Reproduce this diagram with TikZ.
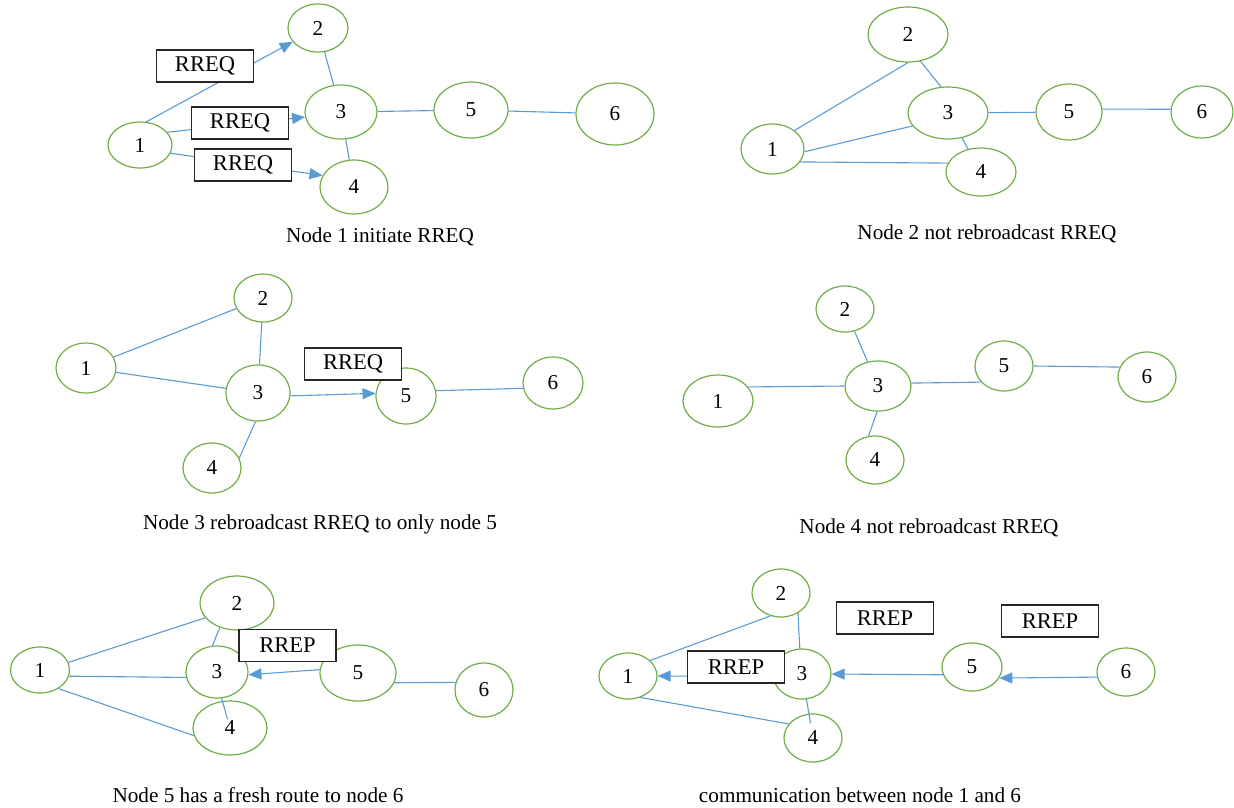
\documentclass[tikz,border=0pt]{standalone}
\usepackage{fontspec}
\setmainfont{Liberation Serif}
\usepackage{tikz}
\usetikzlibrary{arrows.meta,shapes.geometric}
\definecolor{peergreen}{RGB}{112,173,71}
\definecolor{linkblue}{RGB}{91,155,213}
\tikzset{>={Triangle[length=13pt,width=11pt]}}
\tikzset{
    peer/.style 2 args={ellipse,draw=peergreen,line width=1.2pt,inner sep=0pt,minimum width=#1,minimum height=#2},
    link/.style={color=linkblue,line width=1.1pt},
    msg/.style={draw=black!85,fill=white,line width=1.2pt,minimum width=97pt,minimum height=32pt,inner sep=0pt,font=\fontsize{22.5}{26}\selectfont},
}
\begin{document}
\begin{tikzpicture}[x=1pt,y=-1pt,font=\fontsize{21.2}{25}\selectfont]
    \useasboundingbox (0,0) rectangle (1234,807);
    \node[peer={64pt}{46pt}] at (140,145) (a1) {1};
    \node[peer={60pt}{48pt}] at (318,28) (a2) {2};
    \node[peer={72pt}{54pt}] at (341,112) (a3) {3};
    \node[peer={68pt}{54pt}] at (354,187) (a4) {4};
    \node[peer={74pt}{56pt}] at (471,110) (a5) {5};
    \node[peer={78pt}{62pt}] at (615,114) (a6) {6};
    \path[link]
    (a1.75) edge[->] (a2)
    (a1.25) edge[->] (a3.188)
    (a1.-15) edge[->] (a4.160)
    (a2) edge (a3)
    (a3) edge (a4)
    (a3) edge (a5)
    (a5) edge (a6)
    ;
    \node[msg] at (205,66) (a1to2) {RREQ};
    \node[msg] at (240,123) (a1to3) {RREQ};
    \node[msg] at (243,165) (a1to4) {RREQ};
    \node at (380,237) (acap) {Node 1 initiate RREQ};

    \node[peer={63pt}{50pt}] at (772.5,149) (b1) {1};
    \node[peer={80pt}{55pt}] at (908,34.5) (b2) {2};
    \node[peer={80pt}{52pt}] at (948,113) (b3) {3};
    \node[peer={70pt}{48pt}] at (981,172) (b4) {4};
    \node[peer={66pt}{56pt}] at (1069,112) (b5) {5};
    \node[peer={62pt}{52pt}] at (1202,112) (b6) {6};
    \path[link]
    (b1.40) edge (b2.south)
    (b2.-65) edge (b3.105)
    (b1.-5) edge (b3.200)
    (b1.-25) edge (b4.165)
    (b3) edge (b4)
    (b3) edge (b5)
    (b5.5) edge (b6.175)
    ;
    \node at (987,234) (bcap) {Node 2 not rebroadcast RREQ};

    \node[peer={60pt}{50pt}] at (86,368) (c1) {1};
    \node[peer={58pt}{48pt}] at (263,298) (c2) {2};
    \node[peer={64pt}{56pt}] at (258,393) (c3) {3};
    \node[peer={58pt}{50pt}] at (212,468) (c4) {4};
    \node[peer={60pt}{56pt}] at (406,396) (c5) {5};
    \node[peer={60pt}{52pt}] at (553,383) (c6) {6};
    \path[link]
    (c1) edge (c2)
    (c2) edge (c3)
    (c1) edge (c3)
    (c3.-95) edge (c4.20)
    (c3.-5) edge[->] (c5.175)
    (c5.10) edge (c6.190)
    ;
    \node[msg] at (353,364) (c3to5) {RREQ};
    \node at (320,524) (ccap) {Node 3 rebroadcast RREQ to only node 5};

    \node[peer={70pt}{52pt}] at (718,401) (d1) {1};
    \node[peer={58pt}{46pt}] at (845,309) (d2) {2};
    \node[peer={66pt}{50pt}] at (878,386) (d3) {3};
    \node[peer={58pt}{48pt}] at (875,460) (d4) {4};
    \node[peer={58pt}{50pt}] at (1004,366) (d5) {5};
    \node[peer={58pt}{50pt}] at (1147,377) (d6) {6};
    \path[link]
    (d1.25) edge (d3.west)
    (d2) edge (d3)
    (d3.-92) edge (d4.105)
    (d3.5) edge (d5.215)
    (d5.east) edge (d6.160)
    ;
    \node at (929,528) (dcap) {Node 4 not rebroadcast RREQ};

    \node[peer={59pt}{46pt}] at (40,670) (e1) {1};
    \node[peer={74pt}{54pt}] at (237,603) (e2) {2};
    \node[peer={62pt}{52pt}] at (217,672) (e3) {3};
    \node[peer={74pt}{54pt}] at (230,728) (e4) {4};
    \node[peer={76pt}{56pt}] at (358,673) (e5) {5};
    \node[peer={58pt}{54pt}] at (484,690) (e6) {6};
    \path[link]
    (e1.15) edge (e2.205)
    (e2.235) edge (e3.100)
    (e1.-12) edge (e3.190)
    (e1.-45) edge (e4.192)
    (e3.-80) edge[shorten >=9pt] (e4.center)
    (e5.175) edge[->] (e3.-5)
    (e5.-15) edge (e6.165)
    ;
    \node[msg] at (287.5,645.5) (e5to3) {RREP};
    \node at (258,795) (ecap) {Node 5 has a fresh route to node 6};

    \node[peer={58pt}{46pt}] at (628,676) (f1) {1};
    \node[peer={58pt}{48pt}] at (781,593) (f2) {2};
    \node[peer={58pt}{50pt}] at (802,674) (f3) {3};
    \node[peer={58pt}{48pt}] at (813,738) (f4) {4};
    \node[peer={60pt}{48pt}] at (972,667) (f5) {5};
    \node[peer={58pt}{48pt}] at (1126,672) (f6) {6};
    \path[link]
    (f1.35) edge (f2.245)
    (f2.-50) edge (f3.95)
    (f1.-60) edge (f4.150)
    (f3.-80) edge[shorten >=15pt] (f4.center)
    (f3.185) edge[->] (f1.east)
    (f5.195) edge[->] (f3.east)
    (f6.190) edge[->] (f5.-22)
    ;
    \node[msg] at (736,667) (f3to1) {RREP};
    \node[msg] at (885,618) (f5to3) {RREP};
    \node[msg] at (1050,621) (f6to5) {RREP};
    \node at (860,795) (fcap) {communication between node 1 and 6};
\end{tikzpicture}
\end{document}
